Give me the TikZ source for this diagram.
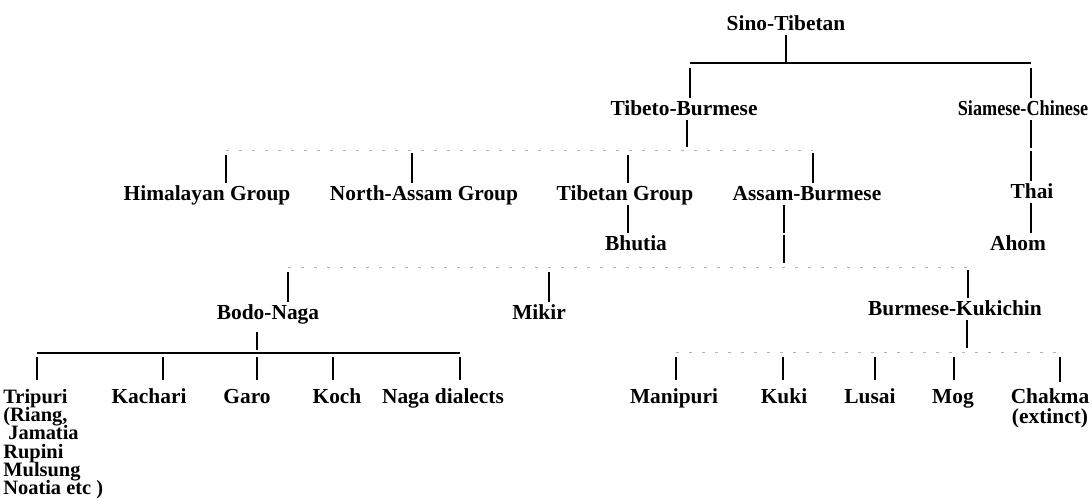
\documentclass[tikz,border=0pt]{standalone}
\usepackage{fontspec}
\setmainfont{Liberation Serif}
\lineskiplimit=-20pt
\lineskip=0pt
\begin{document}
\begin{tikzpicture}[x=0.5pt,y=-0.5pt,
  lbl/.style={font=\bfseries\fontsize{10.7}{9.1}\selectfont, inner xsep=0pt, inner ysep=1pt, text height=7.5pt, text depth=1.5pt, anchor=base},
  leaf/.style={lbl, inner ysep=4pt},
  mlbl/.style={font=\bfseries\fontsize{10.2}{9.1}\selectfont, inner xsep=0pt, inner ysep=4.5pt, align=left, anchor=north west},
  vl/.style={line width=1.2pt},
  bar/.style={line width=0.9pt},
  faint/.style={line width=0.5pt, black!30, dash pattern=on 1.5pt off 5pt}]
\useasboundingbox (0,0) rectangle (1092,498);
% labels
\node[lbl] (st) at (786,30) {Sino-Tibetan};
\node[lbl] (tb) at (684,115) {Tibeto-Burmese};
\node[lbl] (sc) at (1023,115) {\scalebox{0.85}[1]{Siamese-Chinese}};
\node[lbl] (hg) at (207,200) {Himalayan Group};
\node[lbl] (na) at (424,200) {North-Assam Group};
\node[lbl] (tg) at (625,200) {Tibetan Group};
\node[lbl] (ab) at (807,200) {Assam-Burmese};
\node[lbl] (th) at (1032,198) {Thai};
\node[lbl] (bh) at (636,250) {Bhutia};
\node[lbl] (ah) at (1018,250) {Ahom};
\node[lbl] (bn) at (268,319) {Bodo-Naga};
\node[lbl] (mk) at (539,319) {Mikir};
\node[lbl] (bk) at (955,315) {Burmese-Kukichin};
\node[mlbl] (tr) at (3,380) {Tripuri\\(Riang,\\\hspace*{2.5pt}Jamatia\\Rupini\\Mulsung\\Noatia etc )};
\node[leaf] (kc) at (149,403) {Kachari};
\node[leaf] (ga) at (247,403) {Garo};
\node[leaf] (ko) at (337,403) {Koch};
\node[leaf] (nd) at (443,403) {Naga dialects};
\node[leaf] (mp) at (674,403) {Manipuri};
\node[leaf] (ku) at (784,403) {Kuki};
\node[leaf] (lu) at (870,403) {Lusai};
\node[leaf] (mo) at (953,403) {Mog};
\node[mlbl, align=center, anchor=north, inner ysep=3pt, font=\bfseries\fontsize{10.7}{10}\selectfont] (ch) at (1050,382) {Chakma\\(extinct)};
% junction coordinates
\coordinate (j0) at (786,63);
\coordinate (j0l) at (690,63);
\coordinate (j0r) at (1031,63);
\coordinate (j1) at (687,150);
\coordinate (j1l) at (226,150);
\coordinate (j1b) at (412,150);
\coordinate (j1c) at (628,150);
\coordinate (j1r) at (813,150);
\coordinate (s1) at (1031,149);
\coordinate (a1) at (784,234);
\coordinate (j2) at (784,267);
\coordinate (j2l) at (288,267);
\coordinate (j2m) at (549,267);
\coordinate (j2r) at (968,267);
\coordinate (j3) at (257,353);
\coordinate (j3a) at (37,353);
\coordinate (j3b) at (163,353);
\coordinate (j3c) at (333,353);
\coordinate (j3d) at (460,353);
\coordinate (j4) at (967,352);
\coordinate (j4a) at (676,352);
\coordinate (j4b) at (783,352);
\coordinate (j4c) at (875,352);
\coordinate (j4d) at (954,352);
\coordinate (j4e) at (1060,352);
% level 1
\draw[bar] (j0l) -- (j0r);
\draw[vl] (st.south -| j0) -- (j0);
\draw[vl] ([yshift=-2.5pt]j0l) -- (j0l |- tb.north);
\draw[vl] ([yshift=-2.5pt]j0r) -- (j0r |- sc.north);
% level 2
\draw[faint] (j1l) -- (j1r);
\draw[vl] (tb.south -| j1) -- ([yshift=1.5pt]j1);
\draw[vl] ([yshift=-2.5pt]j1l) -- (j1l |- hg.north);
\draw[vl] ([yshift=-1.5pt]j1b) -- (j1b |- na.north);
\draw[vl] ([yshift=-2.5pt]j1c) -- (j1c |- tg.north);
\draw[vl] ([yshift=-1.5pt]j1r) -- (j1r |- ab.north);
% Siamese-Chinese branch
\draw[vl] (sc.south -| s1) -- ([yshift=0.75pt]s1);
\draw[vl] ([yshift=-0.75pt]s1) -- (s1 |- th.north);
\draw[vl] (th.south -| s1) -- (s1 |- ah.north);
% Tibetan group
\draw[vl] (tg.south -| j1c) -- (j1c |- bh.north);
% Assam-Burmese
\draw[vl] (ab.south -| a1) -- ([yshift=0.5pt]a1);
\draw[vl] ([yshift=-0.5pt]a1) -- ([yshift=2pt]j2);
\draw[faint] (j2l) -- (j2r);
\draw[vl] ([yshift=-2.5pt]j2l) -- (j2l |- bn.north);
\draw[vl] ([yshift=-2.5pt]j2m) -- (j2m |- mk.north);
\draw[vl] ([yshift=-1.5pt]j2r) -- (j2r |- bk.north);
% Bodo-Naga
\draw[bar, line width=0.75pt] (j3a) -- (j3d);
\draw[vl] ([yshift=-4pt]bn.south -| j3) -- ([yshift=1.5pt]j3);
\draw[vl] ([yshift=-2pt]j3a) -- (j3a |- tr.north);
\draw[vl] ([yshift=-2pt]j3b) -- (j3b |- kc.north);
\draw[vl] ([yshift=-2pt]j3) -- (j3 |- ga.north);
\draw[vl] ([yshift=-2pt]j3c) -- (j3c |- ko.north);
\draw[vl] ([yshift=-2pt]j3d) -- (j3d |- nd.north);
% Burmese-Kukichin
\draw[faint] (j4a) -- (j4e);
\draw[vl] (bk.south -| j4) -- ([yshift=2pt]j4);
\draw[vl] ([yshift=-2.5pt]j4a) -- (j4a |- mp.north);
\draw[vl] ([yshift=-2.5pt]j4b) -- (j4b |- ku.north);
\draw[vl] ([yshift=-2.5pt]j4c) -- (j4c |- lu.north);
\draw[vl] ([yshift=-2.5pt]j4d) -- (j4d |- mo.north);
\draw[vl] ([yshift=-2.5pt]j4e) -- (j4e |- ch.north);
\end{tikzpicture}
\end{document}
